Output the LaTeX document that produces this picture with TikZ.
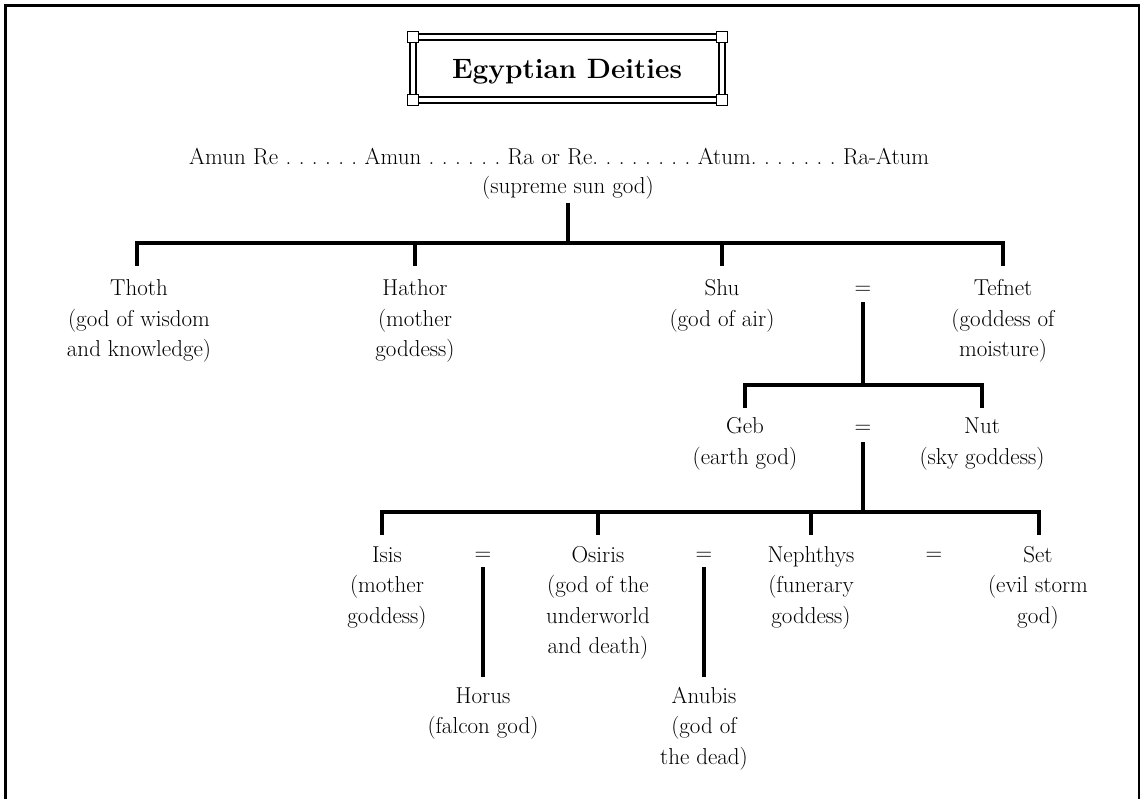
\documentclass[tikz,border=0pt]{standalone}
\usepackage{fontspec}
\begin{document}
\tikzset{
  god/.style={align=center, font=\fontsize{23}{30.5}\selectfont\frenchspacing, inner sep=0pt, anchor=base},
  eqsign/.style={font=\fontsize{23}{30.5}\selectfont, inner sep=0pt, anchor=base},
  titletext/.style={font=\fontsize{28}{32}\selectfont\bfseries, inner sep=0pt, anchor=base},
  link/.style={line width=3.2pt},
  framebar/.style={line width=1.5pt},
  cornerbox/.style={draw, fill=white, line width=1.5pt, minimum size=11pt, inner sep=0pt},
}
\begin{tikzpicture}[x=1pt,y=-1pt]
\useasboundingbox (0,0) rectangle (1144,799);
% page frame
\draw[line width=3.4pt] (5.5,799) -- (5.5,5.5) -- (1139,5.5);
\draw[line width=2.2pt] (1139,4) -- (1139,799);

% title box
\draw[framebar] (410,34) rectangle (725,103);
\draw[framebar] (416,40) rectangle (719,97);
\node[cornerbox] (sq1) at (413,37) {};
\node[cornerbox] (sq2) at (722,37) {};
\node[cornerbox] (sq3) at (413,100) {};
\node[cornerbox] (sq4) at (722,100) {};
\node[titletext] (title) at (567,79) {Egyptian Deities};

% top names (base anchor = baseline of the last line)
\node[god, anchor=base west] (names) at (189,165) {\makebox[740pt][s]{Amun Re . . . . . . Amun . . . . . . Ra or Re. . . . . . . . Atum. . . . . . . Ra-Atum}};
\node[god] (ra) at (568,194) {(supreme sun god)};

% row 1
\node[god] (thoth) at (139,357) {Thoth\\(god of wisdom\\and knowledge)};
\node[god] (hathor) at (415,357) {Hathor\\(mother\\goddess)};
\node[god] (shu) at (722,326.5) {Shu\\(god of air)};
\node[eqsign] (eqA) at (863,295) {=};
\node[god] (tefnet) at (1003,357) {Tefnet\\(goddess of\\moisture)};

% row 2
\node[god] (geb) at (745,464.5) {Geb\\(earth god)};
\node[eqsign] (eqB) at (863,434) {=};
\node[god] (nut) at (982,464.5) {Nut\\(sky goddess)};

% row 3
\node[god] (isis) at (387,623) {Isis\\(mother\\goddess)};
\node[eqsign] (eqC) at (483,560) {=};
\node[god] (osiris) at (598,653.5) {Osiris\\(god of the\\underworld\\and death)};
\node[eqsign] (eqD) at (704,560) {=};
\node[god] (nephthys) at (811,623) {Nephthys\\(funerary\\goddess)};
\node[eqsign] (eqE) at (934,560) {=};
\node[god] (set) at (1038,623) {Set\\(evil storm\\god)};

% row 4
\node[god] (horus) at (483,733.5) {Horus\\(falcon god)};
\node[god] (anubis) at (704,764) {Anubis\\(god of\\the dead)};

% connector points
\coordinate (raB) at (568,203);
\coordinate (raJ) at (568,243);
\coordinate (thothT) at (137,243); \coordinate (thothD) at (137,266);
\coordinate (hathorT) at (415,243); \coordinate (hathorD) at (415,266);
\coordinate (shuT) at (722,243); \coordinate (shuD) at (722,266);
\coordinate (tefnetT) at (1003,243); \coordinate (tefnetD) at (1003,266);

\coordinate (eqAB) at (863,302); \coordinate (eqAJ) at (863,385);
\coordinate (gebT) at (745,385); \coordinate (gebD) at (745,408);
\coordinate (nutT) at (982,385); \coordinate (nutD) at (982,408);

\coordinate (eqBB) at (863,442); \coordinate (eqBJ) at (863,512);
\coordinate (isisT) at (382,512); \coordinate (isisD) at (382,535);
\coordinate (osirisT) at (598,512); \coordinate (osirisD) at (598,535);
\coordinate (nephT) at (811,512); \coordinate (nephD) at (811,535);
\coordinate (setT) at (1039,512); \coordinate (setD) at (1039,535);

\coordinate (eqCB) at (483,567); \coordinate (horusT) at (483,677);
\coordinate (eqDB) at (704,567); \coordinate (anubisT) at (704,677);

% connectors
\draw[link] (raB) -- (raJ);
\draw[link] (thothD) -- (thothT) -- (tefnetT) -- (tefnetD);
\draw[link] (hathorT) -- (hathorD);
\draw[link] (shuT) -- (shuD);

\draw[link] (eqAB) -- (eqAJ);
\draw[link] (gebD) -- (gebT) -- (nutT) -- (nutD);

\draw[link] (eqBB) -- (eqBJ);
\draw[link] (isisD) -- (isisT) -- (setT) -- (setD);
\draw[link] (osirisT) -- (osirisD);
\draw[link] (nephT) -- (nephD);

\draw[link] (eqCB) -- (horusT);
\draw[link] (eqDB) -- (anubisT);
\end{tikzpicture}
\end{document}
